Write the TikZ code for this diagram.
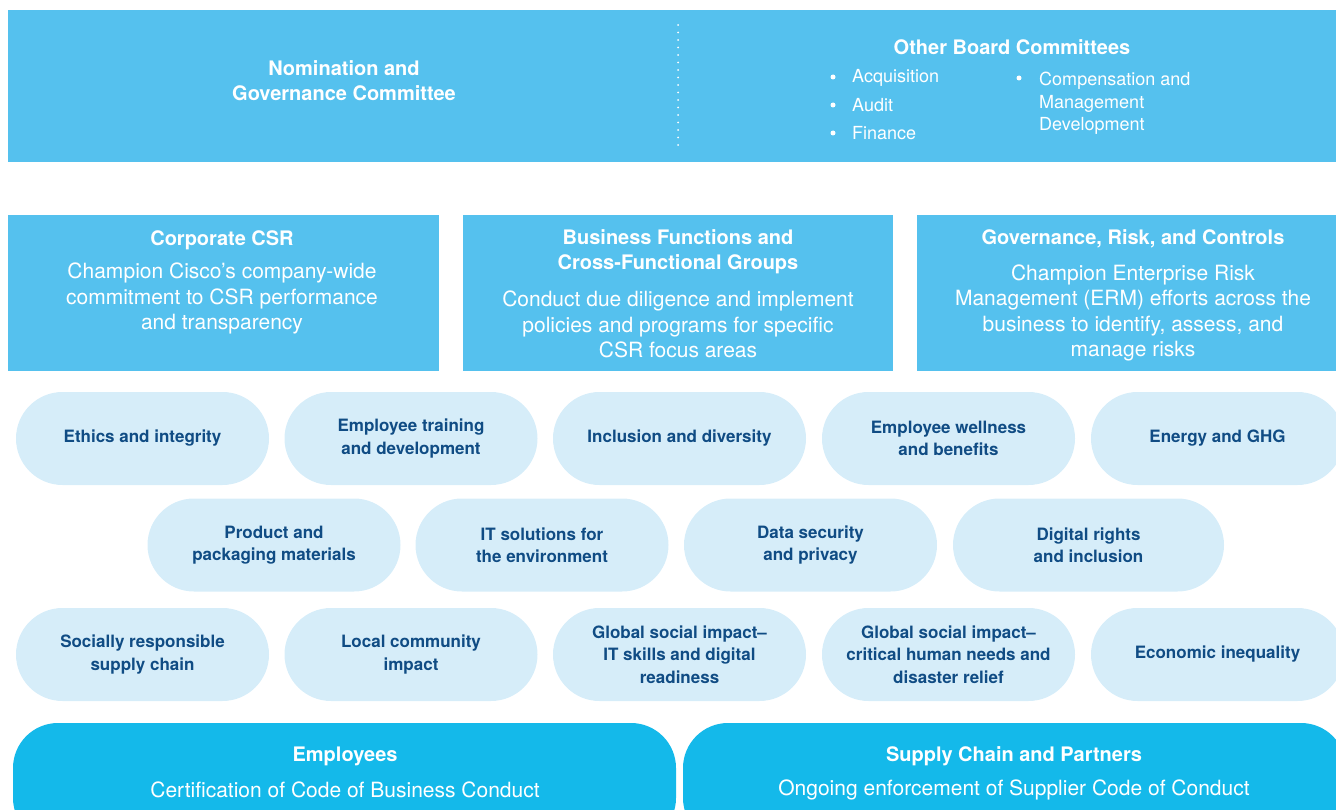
\documentclass[tikz,border=0pt]{standalone}
\usepackage{fontspec}
\setmainfont{TeX Gyre Heros}
\definecolor{panelblue}{RGB}{85,193,238}
\definecolor{pillblue}{RGB}{214,237,249}
\definecolor{pilltext}{RGB}{16,76,132}
\definecolor{baseblue}{RGB}{20,185,234}
\begin{document}
\begin{tikzpicture}[x=1pt,y=-1pt,
  panel/.style={rectangle,fill=panelblue,draw=none,inner sep=0pt},
  basepill/.style={rectangle,fill=baseblue,draw=none,inner sep=0pt,rounded corners=45pt,
    minimum width=663pt,minimum height=120pt},
  pill/.style={rectangle,fill=pillblue,draw=none,inner sep=0pt,rounded corners=46.5pt,
    minimum width=253pt,minimum height=93pt,align=center,text=pilltext,
    font=\fontsize{17}{22.5}\selectfont\bfseries},
  head/.style={text=white,align=center,inner sep=0pt,font=\fontsize{20}{25.5}\selectfont\bfseries},
  body/.style={text=white,align=center,inner sep=0pt,font=\fontsize{21}{25.5}\selectfont},
  item/.style={text=white,anchor=west,align=left,inner sep=0pt,font=\fontsize{18}{22.5}\selectfont},
  bullet/.style={circle,fill=white,draw=none,inner sep=0pt,minimum size=5pt},
  dotline/.style={white,line width=2pt,line cap=round,dash pattern=on 0pt off 7.5pt}
]
\clip (0,0) rectangle (1336,810);

% ---- board level ----
\node[panel,minimum width=1334pt,minimum height=152pt] (board) at (675,86) {};
\coordinate (sepTop) at (678,25);
\coordinate (sepBot) at (678,150);
\draw[dotline] (sepTop) -- (sepBot);

\node[head] (nomination) at (344,80.5) {Nomination and\\Governance Committee};
\node[head] (other) at (1012,47) {Other Board Committees};

\node[bullet] (b1) at (833,77) {};
\node[item] (acq) at (852,78) {Acquisition};
\node[bullet] (b2) at (833,105) {};
\node[item] (audit) at (852,105) {Audit};
\node[bullet] (b3) at (833,133) {};
\node[item] (fin) at (852,133) {Finance};
\node[bullet] (b4) at (1019,78) {};
\node[item] (comp) at (1039,103.5) {Compensation and\\Management\\Development};

% ---- management level ----
\node[panel,minimum width=431pt,minimum height=156pt] (csr) at (223.5,293) {};
\node[panel,minimum width=430pt,minimum height=156pt] (bf) at (678,293) {};
\node[panel,minimum width=432pt,minimum height=156pt] (grc) at (1133,293) {};

\node[head] (csrHead) at (222,240) {Corporate CSR};
\node[body] (csrBody) at (222,298.5) {Champion Cisco’s company-wide\\commitment to CSR performance\\and transparency};

\node[head] (bfHead) at (678,251.5) {Business Functions and\\Cross-Functional Groups};
\node[body] (bfBody) at (678,324.5) {Conduct due diligence and implement\\policies and programs for specific\\CSR focus areas};

\node[head] (grcHead) at (1133,239) {Governance, Risk, and Controls};
\node[body] (grcBody) at (1133,313) {Champion Enterprise Risk\\Management (ERM) efforts across the\\business to identify, assess, and\\manage risks};

% ---- focus areas ----
\node[pill] (f11) at (142.5,438.5) {Ethics and integrity};
\node[pill] (f12) at (411,438.5) {Employee training\\and development};
\node[pill] (f13) at (679.5,438.5) {Inclusion and diversity};
\node[pill] (f14) at (948.5,438.5) {Employee wellness\\and benefits};
\node[pill] (f15) at (1217.5,438.5) {Energy and GHG};

\node[pill] (f21) at (274,545) {Product and\\packaging materials};
\node[pill] (f22) at (542,545) {IT solutions for\\the environment};
\node[pill] (f23) at (810.5,545) {Data security\\and privacy};
\node[pill,minimum width=271pt] (f24) at (1088.5,545) {Digital rights\\and inclusion};

\node[pill] (f31) at (142.5,654.5) {Socially responsible\\supply chain};
\node[pill] (f32) at (411,654.5) {Local community\\impact};
\node[pill] (f33) at (679.5,654.5) {Global social impact–\\IT skills and digital\\readiness};
\node[pill] (f34) at (948.5,654.5) {Global social impact–\\critical human needs and\\disaster relief};
\node[pill] (f35) at (1217.5,654.5) {Economic inequality};

% ---- stakeholders ----
\node[basepill] (emp) at (344.5,783) {};
\node[basepill] (sup) at (1014.5,783) {};
\node[head] (empHead) at (345,756) {Employees};
\node[body] (empBody) at (345,790) {Certification of Code of Business Conduct};
\node[head] (supHead) at (1014,756) {Supply Chain and Partners};
\node[body] (supBody) at (1014,790) {Ongoing enforcement of Supplier Code of Conduct};
\end{tikzpicture}
\end{document}
